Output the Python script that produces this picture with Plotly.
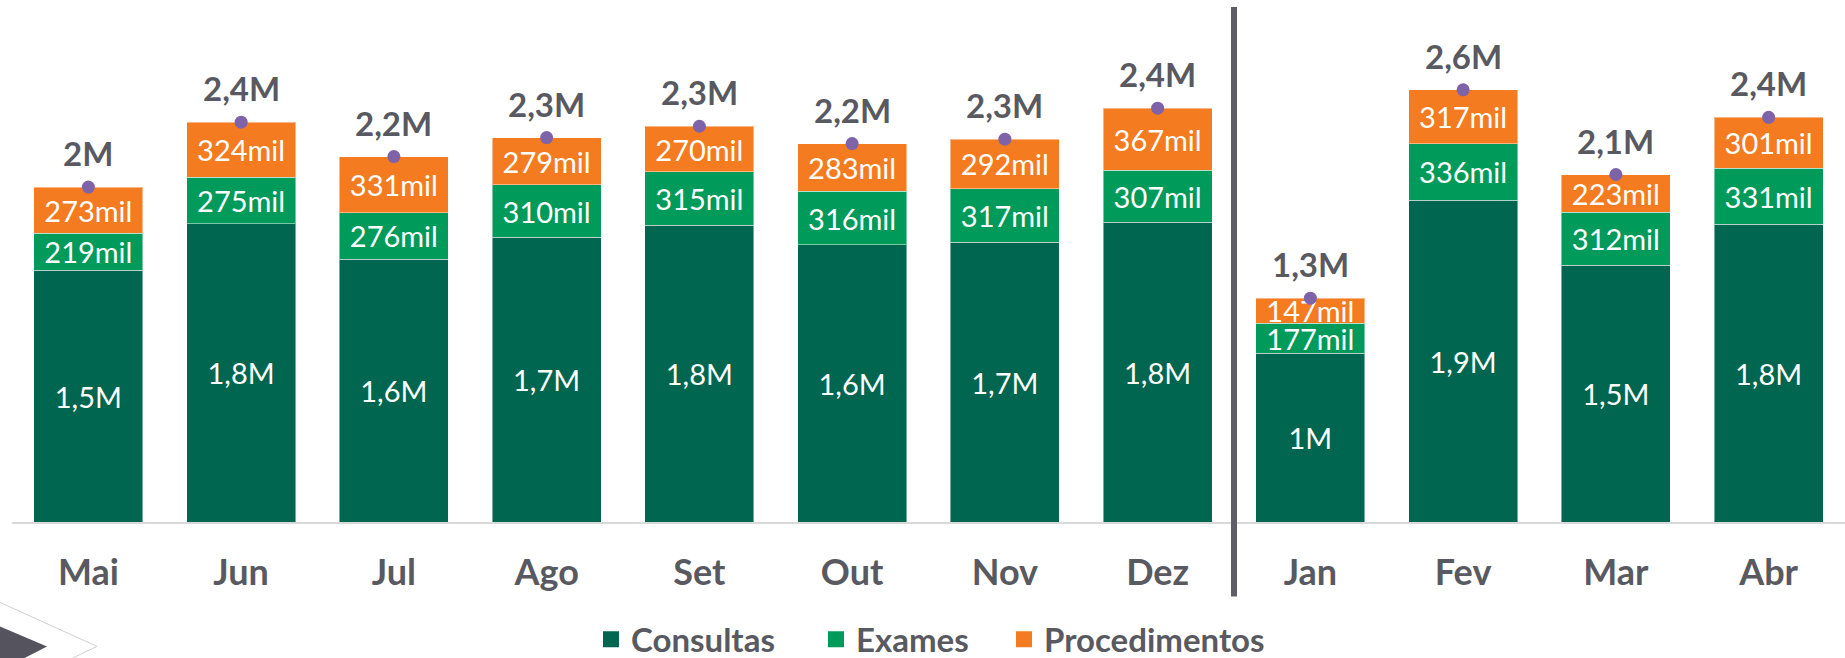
import plotly.graph_objects as go

months = ["Mai", "Jun", "Jul", "Ago", "Set", "Out", "Nov", "Dez", "Jan", "Fev", "Mar", "Abr"]
consultas = [1486000, 1762000, 1551000, 1681000, 1752000, 1636000, 1652000, 1770000, 998000, 1899000, 1517000, 1758000]
exames = [219000, 275000, 276000, 310000, 315000, 316000, 317000, 307000, 177000, 336000, 312000, 331000]
procedimentos = [273000, 324000, 331000, 279000, 270000, 283000, 292000, 367000, 147000, 317000, 223000, 301000]

C_CONS = "#00664F"
C_EXAM = "#009A5B"
C_PROC = "#F47B20"
C_DOT = "#7F63A9"
C_TEXT = "#595961"
FONT = "Lato"


def fmt(v):
    if v >= 950000:
        s = f"{v / 1e6:.1f}".replace(".", ",")
        if s.endswith(",0"):
            s = s[:-2]
        return s + "M"
    return f"{round(v / 1000)}mil"


totals = [c + e + p for c, e, p in zip(consultas, exames, procedimentos)]

W, H = 1845, 658
L, R, T, B = 12, 0, 7, 135.5
plot_h = H - T - B
px_per_unit = 169.5 / 1e6
ymax = plot_h / px_per_unit


def py2paper(py):
    return (H - B - py) / plot_h


def px2paper(px):
    return (px - L) / (W - L - R)


fig = go.Figure()
common = dict(
    textposition="inside",
    insidetextanchor="middle",
    textangle=0,
    constraintext="none",
    textfont=dict(family=FONT, size=29, color="white"),
    marker_line=dict(color="rgba(255,255,255,0.45)", width=1),
    hoverinfo="skip",
    showlegend=False,
)
series = [("Consultas", consultas, C_CONS), ("Exames", exames, C_EXAM), ("Procedimentos", procedimentos, C_PROC)]
for name, vals, col in series:
    fig.add_trace(go.Bar(x=months, y=vals, name=name, marker_color=col, legendgroup=name,
                         text=[fmt(v) for v in vals], **common))
fig.add_trace(go.Scatter(x=months, y=totals, mode="markers", showlegend=False,
                         marker=dict(size=13, color=C_DOT), hoverinfo="skip"))

# legend entries (square swatches), each in its own legend box
legend_ids = ["legend", "legend2", "legend3"]
legend_left_px = [591, 816, 1004]
for (name, vals, col), lid in zip(series, legend_ids):
    fig.add_trace(go.Scatter(x=[months[0]], y=[None], mode="markers", name=name, legendgroup=name,
                             legend=lid, marker=dict(symbol="square", size=19, color=col),
                             hoverinfo="skip"))

for m, t in zip(months, totals):
    fig.add_annotation(x=m, y=t, text=fmt(t), showarrow=False, yanchor="middle", yshift=34,
                       font=dict(family=FONT, size=33, color=C_TEXT, weight="bold"))

# divider between years
fig.add_shape(type="line", xref="x", yref="paper", x0=7.5, x1=7.5,
              y0=py2paper(597), y1=py2paper(7), line=dict(color="#5F5E68", width=6))

# decorative arrow bottom-left
def pt(px, py):
    return f"{px2paper(px):.5f},{py2paper(py):.5f}"

fig.add_shape(type="path", xref="paper", yref="paper",
              path=f"M {pt(0,627)} L {pt(47,647)} L {pt(22,660)} L {pt(0,660)} Z",
              fillcolor="#55545E", line=dict(width=0), layer="above")
fig.add_shape(type="path", xref="paper", yref="paper",
              path=f"M {pt(0,603)} L {pt(97,647)} L {pt(70,660)}",
              line=dict(color="#D0D0D0", width=1), layer="above")

legend_style = dict(orientation="h", xanchor="left", yanchor="middle", y=py2paper(640),
                    font=dict(family=FONT, size=33, color=C_TEXT, weight="bold"),
                    itemsizing="trace", itemwidth=30, bgcolor="rgba(0,0,0,0)")
legends = {lid: dict(x=px2paper(lx), **legend_style) for lid, lx in zip(legend_ids, legend_left_px)}

fig.update_layout(
    width=W, height=H,
    margin=dict(l=L, r=R, t=T, b=B, pad=0, autoexpand=False),
    barmode="stack",
    bargap=0.286,
    paper_bgcolor="white",
    plot_bgcolor="white",
    font=dict(family=FONT, color=C_TEXT),
    xaxis=dict(range=[-0.5, len(months) - 0.5], showline=True, linecolor="#D9D9D9", linewidth=2,
               showgrid=False, automargin=False,
               ticks="", tickfont=dict(family=FONT, size=36, color=C_TEXT, weight="bold"),
               ticklabelstandoff=18, fixedrange=True),
    yaxis=dict(range=[0, ymax], showgrid=False, zeroline=False, showticklabels=False,
               showline=False, fixedrange=True, automargin=False),
    showlegend=True,
    **legends,
)

fig.write_html("out.html", config={"displayModeBar": False},
               post_script="document.body.style.margin='0';document.body.style.overflow='hidden';")
